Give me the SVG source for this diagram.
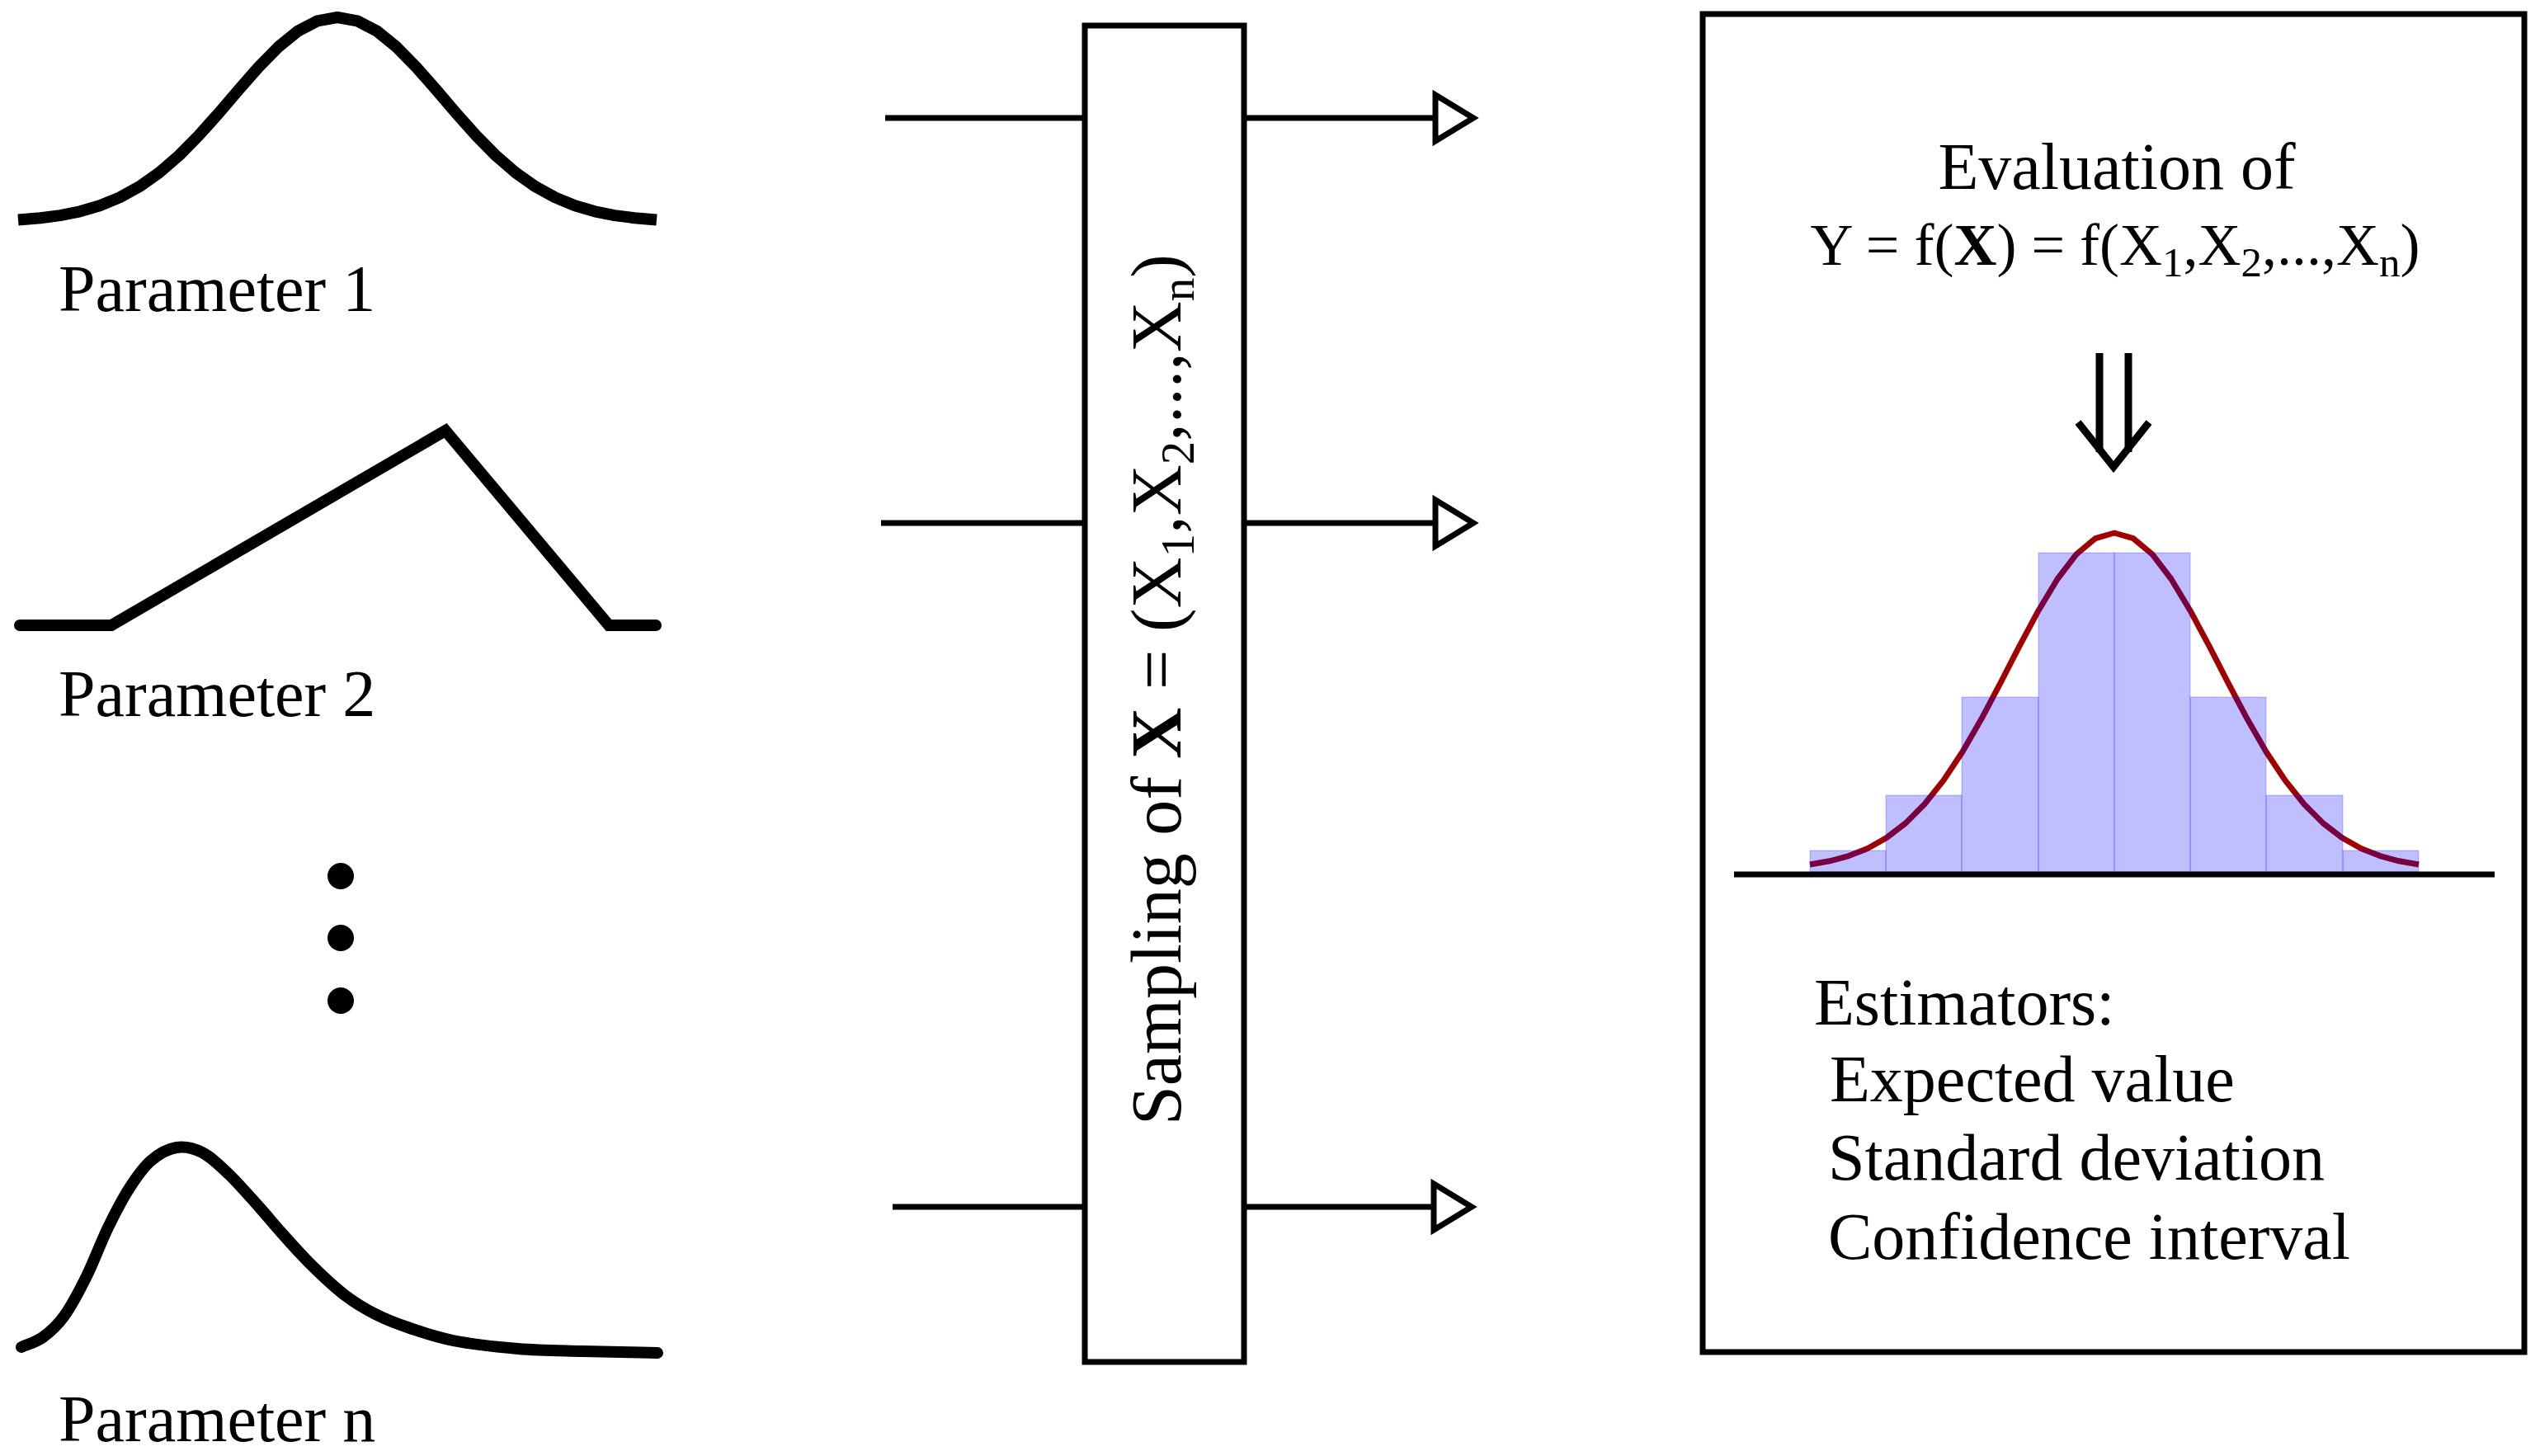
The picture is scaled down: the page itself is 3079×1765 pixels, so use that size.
<svg xmlns="http://www.w3.org/2000/svg" width="3079" height="1765" viewBox="0 0 3079 1765">
<style>
.t{font-family:"Liberation Serif","Times New Roman",serif;fill:#000;}
.lbl{font-size:80px;}
.dist{fill:none;stroke:#000;stroke-width:14;}
.box{fill:#fff;stroke:#000;stroke-width:7;}
.conn{fill:none;stroke:#000;stroke-width:7;}
.bar{fill:#0000ff;fill-opacity:0.25;stroke:#0000ff;stroke-opacity:0.12;stroke-width:2;}
</style>
<defs>
<marker id="openTri" markerUnits="userSpaceOnUse" viewBox="-8 -38 66 76" markerWidth="66" markerHeight="76" refX="0" refY="0" orient="auto" overflow="visible">
<path d="M0,-28 L46,0 L0,28 Z" fill="#fff" stroke="#000" stroke-width="7" stroke-linejoin="miter"/>
</marker>
</defs>
<rect width="3079" height="1765" fill="#fff"/>

<g id="param1">
<polyline class="dist" stroke-linejoin="round" points="22,266.4 49,264.2 73,261.1 97,256.3 121,249.3 145,239.4 169,226.2 193,209.3 217,188.5 241,164.2 265,137.3 289,109.2 313,81.8 337,57.3 361,37.8 385,25.3 409,21 433,25.3 457,37.8 481,57.3 505,81.8 529,109.2 553,137.3 577,164.2 601,188.5 625,209.3 649,226.2 673,239.4 697,249.3 721,256.3 745,261.1 769,264.2 796,266.4"/>
<text class="t lbl" x="71" y="377">Parameter 1</text>
</g>

<g id="param2">
<polyline class="dist" stroke-linecap="round" stroke-linejoin="miter" points="24,758 135,758 540,522 738,758 795,758"/>
<text class="t lbl" x="71" y="868">Parameter 2</text>
</g>

<g id="paramDots">
<circle cx="413" cy="1062" r="16"/>
<circle cx="413" cy="1137" r="16"/>
<circle cx="413" cy="1213" r="16"/>
</g>

<g id="paramN">
<path class="dist" stroke-linecap="round" stroke-linejoin="round" d="M26,1633 C34.7,1629 43.3,1627.3 52,1621 C60.7,1614.7 69.2,1607.3 78,1595 C86.8,1582.7 96.2,1564.8 105,1547 C113.8,1529.2 122.3,1505.8 131,1488 C139.7,1470.2 148.3,1453.5 157,1440 C165.7,1426.5 173.5,1415.2 183,1407 C192.5,1398.8 203.7,1392.7 214,1391 C224.3,1389.3 234.5,1391.7 245,1397 C255.5,1402.3 265.5,1412 277,1423 C288.5,1434 303.5,1451.3 314,1463 C324.5,1474.7 329.5,1481.3 340,1493 C350.5,1504.7 364,1520.2 377,1533 C390,1545.8 405,1560 418,1570 C431,1580 441.8,1586.3 455,1593 C468.2,1599.7 481.3,1604.7 497,1610 C512.7,1615.3 527.2,1620.8 549,1625 C570.8,1629.2 601.8,1632.8 628,1635 C654.2,1637.2 677.8,1637.2 706,1638 C734.2,1638.8 766.7,1639.3 797,1640"/>
<text class="t lbl" x="71" y="1747">Parameter n</text>
</g>

<g id="connectors">
<line class="conn" x1="1073" y1="143" x2="1315" y2="143"/>
<line class="conn" x1="1068" y1="634" x2="1315" y2="634"/>
<line class="conn" x1="1082" y1="1463" x2="1315" y2="1463"/>
<line class="conn" x1="1508" y1="143" x2="1740" y2="143" marker-end="url(#openTri)"/>
<line class="conn" x1="1508" y1="634" x2="1740" y2="634" marker-end="url(#openTri)"/>
<line class="conn" x1="1508" y1="1463" x2="1738" y2="1463" marker-end="url(#openTri)"/>
</g>

<g id="sampling">
<rect class="box" x="1315" y="31" width="193" height="1620"/>
<text class="t" font-size="86" text-anchor="middle" transform="translate(1431,836) rotate(-90)">Sampling of <tspan font-weight="bold">X</tspan> = (X<tspan font-size="57" dy="16">1</tspan><tspan dy="-16">,X</tspan><tspan font-size="57" dy="16">2</tspan><tspan dy="-16">,...,X</tspan><tspan font-size="57" dy="16">n</tspan><tspan dy="-16">)</tspan></text>
</g>

<g id="evaluation">
<rect class="box" x="2064" y="17" width="996" height="1622"/>
<text class="t lbl" x="2566" y="229" text-anchor="middle">Evaluation of</text>
<text class="t" font-size="72" x="2564" y="321" text-anchor="middle">Y = f(<tspan font-weight="bold">X</tspan>) = f(X<tspan font-size="51" dy="14">1</tspan><tspan dy="-14">,X</tspan><tspan font-size="51" dy="14">2</tspan><tspan dy="-14">,...,X</tspan><tspan font-size="51" dy="14">n</tspan><tspan dy="-14">)</tspan></text>
<g id="doubleArrow" fill="none" stroke="#000" stroke-width="9">
<line x1="2545" y1="428" x2="2545" y2="548"/>
<line x1="2580" y1="428" x2="2580" y2="548"/>
<polyline points="2519,512 2562,566 2605,512" stroke-linejoin="miter"/>
</g>
<g id="histogram">
<polyline fill="none" stroke="#a00000" stroke-width="7" stroke-linejoin="round" points="2194,1048 2218,1043.8 2241,1037.6 2264,1028.5 2287,1015.5 2310,997.9 2333,974.8 2356,945.9 2379,911.2 2402,871.3 2425,827.9 2448,783.2 2471,740.2 2494,702 2517,671.9 2540,652.7 2563,646 2586,652.7 2609,671.9 2632,702 2655,740.2 2678,783.2 2701,827.9 2724,871.3 2747,911.2 2770,945.9 2793,974.8 2816,997.9 2839,1015.5 2862,1028.5 2885,1037.6 2908,1043.8 2932,1048"/>
<rect class="bar" x="2194" y="1031" width="92" height="26"/>
<rect class="bar" x="2286" y="964" width="92" height="93"/>
<rect class="bar" x="2378" y="845" width="93" height="212"/>
<rect class="bar" x="2471" y="670" width="92" height="387"/>
<rect class="bar" x="2563" y="670" width="92" height="387"/>
<rect class="bar" x="2655" y="845" width="92" height="212"/>
<rect class="bar" x="2747" y="964" width="93" height="93"/>
<rect class="bar" x="2840" y="1031" width="92" height="26"/>
<line x1="2102" y1="1060" x2="3024" y2="1060" stroke="#000" stroke-width="7"/>
</g>
<text class="t lbl" x="2199" y="1242">Estimators:</text>
<text class="t lbl" x="2218" y="1335">Expected value</text>
<text class="t lbl" x="2216" y="1430">Standard deviation</text>
<text class="t lbl" x="2216" y="1526">Confidence interval</text>
</g>
</svg>
